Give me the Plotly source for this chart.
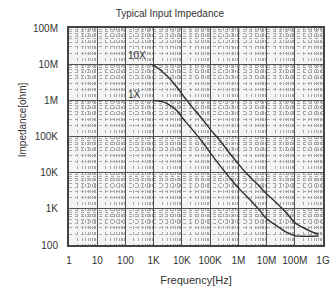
import plotly.graph_objects as go

# Data
freq_10x = [750, 1e3, 3e3, 7e3, 1e4, 2e4, 5e4, 1e5, 2e5, 5e5, 1e6, 2e6, 5e6, 1e7, 2e7, 5e7, 1e8, 2e8, 5e8, 7e8]
imp_10x = [1e7, 9.3e6, 4.7e6, 2.2e6, 1.5e6, 7.5e5, 3.2e5, 1.6e5, 8.5e4, 3.4e4, 1.75e4, 9.3e3, 4.6e3, 2.6e3, 1.6e3, 780, 415, 300, 215, 205]

freq_1x = [1e3, 2e3, 3e3, 7e3, 1e4, 2e4, 5e4, 1e5, 2e5, 5e5, 1e6, 2e6, 5e6, 1e7, 2e7, 5e7, 1e8, 2e8, 5e8, 7e8]
imp_1x = [1e6, 9.2e5, 8.1e5, 5e5, 3.4e5, 1.8e5, 7.5e4, 3.6e4, 1.75e4, 7.2e3, 3.8e3, 2.2e3, 1.03e3, 530, 365, 227, 182, 174, 176, 178]

x_tickvals = [1, 10, 100, 1e3, 1e4, 1e5, 1e6, 1e7, 1e8, 1e9]
x_ticktext = ["1", "10", "100", "1K", "10K", "100K", "1M", "10M", "100M", "1G"]
y_tickvals = [100, 1e3, 1e4, 1e5, 1e6, 1e7, 1e8]
y_ticktext = ["100", "1K", "10K", "100K", "1M", "10M", "100M"]

title = "Typical Input Impedance"
x_title = "Frequency[Hz]"
y_title = "Impedance[ohm]"
series_labels = ["10X", "1X"]

FONT = "Liberation Sans, Arial, sans-serif"
TXT = "#333333"
LINE = "#2e2e2e"

fig = go.Figure()
fig.add_trace(go.Scatter(x=freq_10x, y=imp_10x, mode="lines", line=dict(color=LINE, width=1.4, shape="spline", smoothing=1.0), name=series_labels[0], showlegend=False))
fig.add_trace(go.Scatter(x=freq_1x, y=imp_1x, mode="lines", line=dict(color=LINE, width=1.4, shape="spline", smoothing=1.0), name=series_labels[1], showlegend=False))

fig.add_annotation(x=2.42, y=7.25, xref="x", yref="y", text=series_labels[0], showarrow=False, font=dict(family=FONT, size=10, color=TXT))
fig.add_annotation(x=2.31, y=6.15, xref="x", yref="y", text=series_labels[1], showarrow=False, font=dict(family=FONT, size=10, color=TXT))
# y-axis title sits above the plot's vertical centre in the reference
fig.add_annotation(x=-0.185, y=0.575, xref="paper", yref="paper", text=y_title, textangle=-90,
                   showarrow=False, xanchor="center", yanchor="middle",
                   font=dict(family=FONT, size=10, color=TXT))

axis_common = dict(
    showgrid=True, gridcolor="#505050", gridwidth=1.4,
    showline=True, linecolor="#444444", linewidth=2, mirror=True,
    ticks="", zeroline=False, automargin=False,
    tickfont=dict(family=FONT, size=10, color=TXT),
    minor=dict(dtick="D1", showgrid=True, gridcolor="#a8a8a8", gridwidth=1, griddash="dot", ticks=""),
)

fig.update_xaxes(type="log", range=[0, 9], tickvals=x_tickvals, ticktext=x_ticktext,
                 ticklabelstandoff=5,
                 title=dict(text=x_title, font=dict(family=FONT, size=11, color=TXT), standoff=11),
                 **axis_common)
fig.update_yaxes(type="log", range=[2, 8], tickvals=y_tickvals, ticktext=y_ticktext,
                 ticklabelstandoff=7,
                 **axis_common)

fig.update_layout(
    width=333, height=291,
    margin=dict(l=69, r=10, t=28, b=46),
    paper_bgcolor="white", plot_bgcolor="#f4f4f4",
    title=dict(text=title, x=0.51, xanchor="center", y=0.955, yanchor="middle",
               font=dict(family=FONT, size=10, color=TXT)),
    font=dict(family=FONT, color=TXT),
)

fig.write_html("out.html", config={"displayModeBar": False},
               post_script="document.body.style.margin='0';document.body.style.overflow='hidden';")
